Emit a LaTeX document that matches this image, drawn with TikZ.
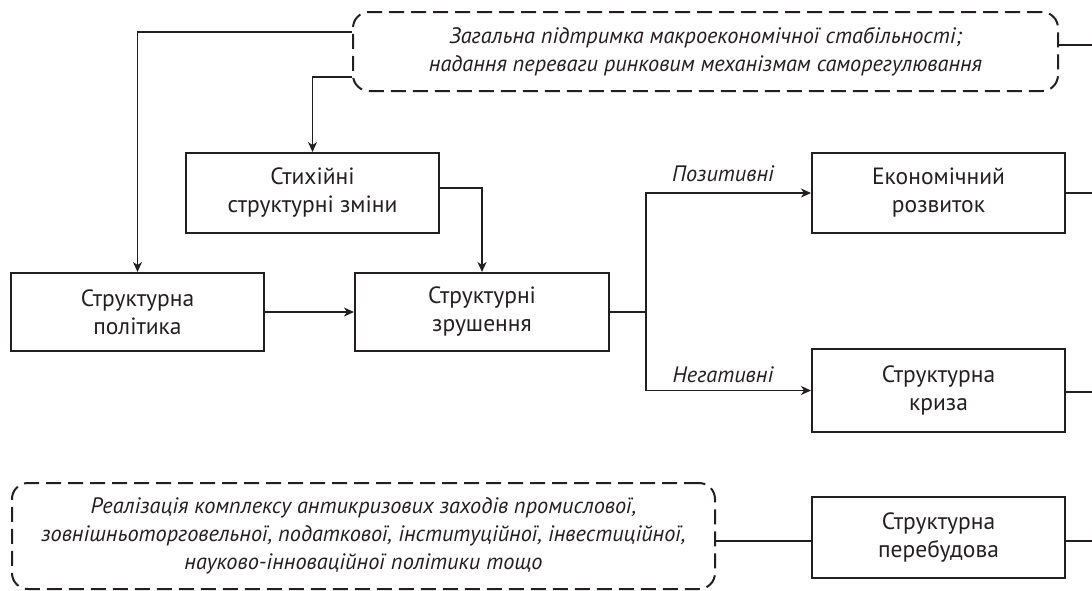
\documentclass[tikz,border=0pt]{standalone}
\usepackage{fontspec}
\setmainfont{PT Sans}
\usetikzlibrary{arrows.meta}
\definecolor{ink}{HTML}{231F20}
\begin{document}
\begin{tikzpicture}[x=1pt,y=-1pt,
  every node/.style={text=ink,font=\fontsize{23.5}{28}\selectfont,align=center,inner sep=0pt},
  box/.style={draw=ink,line width=2pt,minimum width=253pt},
  dbox/.style={draw=ink,line width=2pt,dash pattern=on 15pt off 7pt,rounded corners=16pt},
  conn/.style={draw=ink,line width=1.5pt},
  arr/.style={conn,-{Stealth[length=10pt,width=9pt,inset=3pt]}},
  itx/.style={font=\fontsize{22.3}{28}\selectfont\itshape}
]
\useasboundingbox (0,0) rectangle (1092,590);
\node[dbox,itx,minimum width=705pt,minimum height=79pt] (top) at (705.5,51.5)
  {Загальна підтримка макроекономічної стабільності;\\надання переваги ринковим механізмам саморегулювання};
\node[box,minimum height=80pt] (stykh) at (312.5,193) {Стихійні\\структурні зміни};
\node[box,minimum height=78pt] (polit) at (137.5,312) {Структурна\\політика};
\node[box,minimum width=254pt,minimum height=78pt] (zrush) at (482,312) {Структурні\\зрушення};
\node[box,minimum height=80pt] (ekon) at (938.5,193) {Економічний\\розвиток};
\node[box,minimum height=83pt] (kryza) at (938.5,390.5) {Структурна\\криза};
\node[box,minimum height=81pt] (pereb) at (938.5,537.5) {Структурна\\перебудова};
\node[dbox,itx,minimum width=703pt,minimum height=106pt] (bottom) at (363.5,536)
  {Реалізація комплексу антикризових заходів промислової,\\зовнішньоторговельної, податкової, інституційної, інвестиційної,\\науково-інноваційної політики тощо};
\node[itx] (pos) at (723,174) {Позитивні};
\node[itx] (neg) at (723,375) {Негативні};
\coordinate (y32) at (0,32);
\coordinate (y77) at (0,77);
\coordinate (split) at (646,312);
\coordinate (e1) at (1092,45);
\coordinate (e2) at (1092,193);
\coordinate (e3) at (1092,392);
\coordinate (e4) at (1092,541);
\draw[arr] (top.west |- y32) -| (polit.north);
\draw[arr] (top.west |- y77) -| (stykh.north);
\draw[arr] ([yshift=5pt]stykh.east) -| (zrush.north);
\draw[arr] (polit.east) -- (zrush.west);
\draw[conn] (zrush.east) -- (split);
\draw[arr] (split) |- (ekon.west);
\draw[arr] (split) |- (kryza.west);
\draw[conn] (top.east |- e1) -- (e1);
\draw[conn] (ekon.east) -- (e2);
\draw[conn] (kryza.east |- e3) -- (e3);
\draw[conn] (pereb.east |- e4) -- (e4);
\draw[conn] (bottom.east |- e4) -- (pereb.west |- e4);
\end{tikzpicture}
\end{document}
